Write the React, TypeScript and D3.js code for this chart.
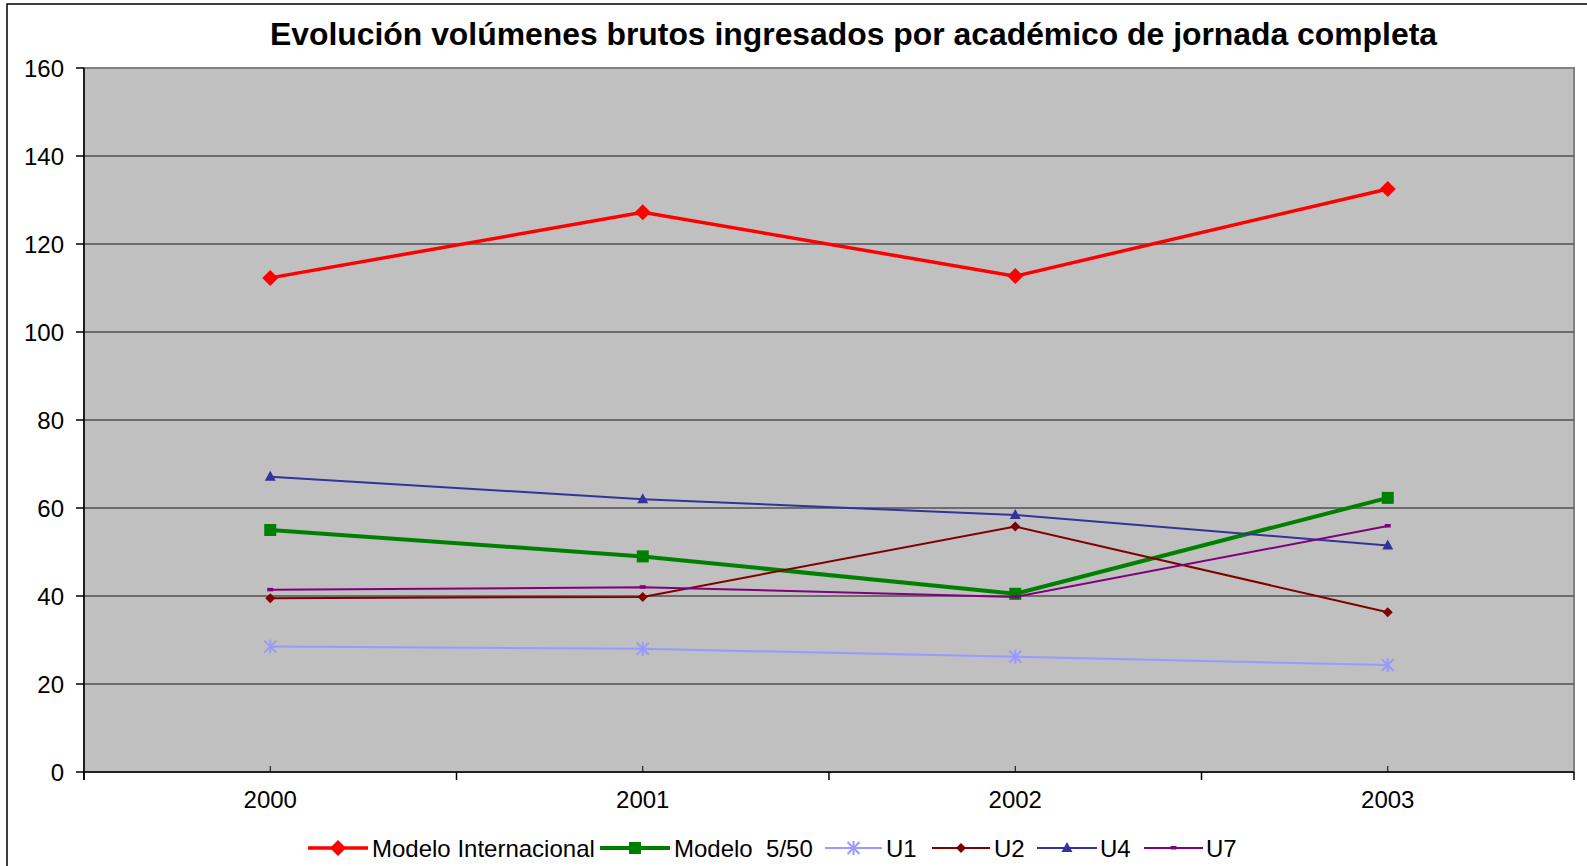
import React from "react";
import * as d3 from "d3";

const years = ["2000", "2001", "2002", "2003"];
const yTicks = [0, 20, 40, 60, 80, 100, 120, 140, 160];
const modeloInternacional = [112.3, 127.2, 112.7, 132.5];
const modelo550 = [55.0, 49.0, 40.5, 62.3];
const u1 = [28.5, 28.0, 26.2, 24.3];
const u2 = [39.5, 39.8, 55.8, 36.3];
const u4 = [67.1, 62.0, 58.4, 51.5];
const u7 = [41.4, 42.0, 39.8, 55.9];

type Series = { name: string; values: number[]; color: string; width: number; marker: string };
const series: Series[] = [
  { name: "Modelo Internacional", values: modeloInternacional, color: "#FF0000", width: 3.5, marker: "diamondBig" },
  { name: "Modelo  5/50", values: modelo550, color: "#008000", width: 4, marker: "square" },
  { name: "U1", values: u1, color: "#9999FF", width: 2, marker: "star" },
  { name: "U2", values: u2, color: "#800000", width: 2, marker: "diamondSmall" },
  { name: "U4", values: u4, color: "#333399", width: 2, marker: "triangle" },
  { name: "U7", values: u7, color: "#800080", width: 2, marker: "dash" },
];

const W = 1587, H = 866;
const plot = { l: 84, t: 68, r: 1574, b: 772 };

function Marker({ type, x, y, color }: { type: string; x: number; y: number; color: string }) {
  switch (type) {
    case "diamondBig":
      return <path d={`M${x},${y - 8}L${x + 8},${y}L${x},${y + 8}L${x - 8},${y}Z`} fill={color} />;
    case "square":
      return <rect x={x - 6} y={y - 6} width={12} height={12} fill={color} />;
    case "star":
      return (
        <g stroke={color} strokeWidth={2}>
          <line x1={x - 6} y1={y - 6} x2={x + 6} y2={y + 6} />
          <line x1={x - 6} y1={y + 6} x2={x + 6} y2={y - 6} />
          <line x1={x} y1={y - 7} x2={x} y2={y + 7} />
        </g>
      );
    case "diamondSmall":
      return <path d={`M${x},${y - 5}L${x + 5},${y}L${x},${y + 5}L${x - 5},${y}Z`} fill={color} />;
    case "triangle":
      return <path d={`M${x},${y - 6}L${x + 5.5},${y + 4}L${x - 5.5},${y + 4}Z`} fill={color} />;
    case "dash":
      return <rect x={x - 3} y={y - 2} width={6} height={3.5} fill={color} />;
  }
  return null;
}

export default function App() {
  const x = d3.scaleBand().domain(years).range([plot.l, plot.r]);
  const y = d3.scaleLinear().domain([0, 160]).range([plot.b, plot.t]);
  const cx = (yr: string) => (x(yr) as number) + x.bandwidth() / 2;
  const line = d3
    .line<number>()
    .x((_, i) => cx(years[i]))
    .y((v) => y(v));

  const bounds = years.map((yr) => x(yr) as number).concat([plot.r]);

  const legendItems = [
    { lx: 308, lx2: 368, tx: 372 },
    { lx: 600, lx2: 670, tx: 674 },
    { lx: 825, lx2: 882, tx: 886 },
    { lx: 932, lx2: 990, tx: 994 },
    { lx: 1037, lx2: 1097, tx: 1100 },
    { lx: 1144, lx2: 1203, tx: 1206 },
  ];
  const ly = 848;

  return (
    <svg width={W} height={H} style={{ position: "absolute", left: 0, top: 0 }} fontFamily="Liberation Sans, Arial, sans-serif">
      <rect x={0} y={0} width={W} height={H} fill="#fff" />
      <rect x={7} y={4} width={W + 20} height={H + 20} fill="none" stroke="#000" strokeWidth={1.5} />
      <text x={270} y={45} fontSize={31} fontWeight="bold" fill="#000" textLength={1167} lengthAdjust="spacingAndGlyphs">
        Evolución volúmenes brutos ingresados por académico de jornada completa
      </text>
      <rect x={plot.l} y={plot.t} width={plot.r - plot.l} height={plot.b - plot.t} fill="#C0C0C0" stroke="#808080" strokeWidth={2} />
      {yTicks.map((t) => (
        <g key={t}>
          {t > 0 && t < 160 && <line x1={plot.l} x2={plot.r} y1={y(t)} y2={y(t)} stroke="#505050" strokeWidth={1.5} />}
          <line x1={plot.l - 8} x2={plot.l} y1={y(t)} y2={y(t)} stroke="#000" strokeWidth={1.5} />
          <text x={64} y={y(t) + 8.5} textAnchor="end" fontSize={24} fill="#000">
            {t}
          </text>
        </g>
      ))}
      <line x1={plot.l} x2={plot.l} y1={plot.t} y2={plot.b + 8} stroke="#000" strokeWidth={1.5} />
      <line x1={plot.l} x2={plot.r} y1={plot.b} y2={plot.b} stroke="#000" strokeWidth={1.5} />
      {bounds.map((b, i) => (
        <line key={i} x1={b} x2={b} y1={plot.b} y2={plot.b + 8} stroke="#000" strokeWidth={1.5} />
      ))}
      {years.map((yr) => (
        <g key={yr}>
          <line x1={cx(yr)} x2={cx(yr)} y1={plot.b - 6} y2={plot.b} stroke="#000" strokeWidth={1} />
          <text x={cx(yr)} y={808} textAnchor="middle" fontSize={24} fill="#000">
            {yr}
          </text>
        </g>
      ))}
      {series.map((s) => (
        <g key={s.name}>
          <path d={line(s.values) || ""} fill="none" stroke={s.color} strokeWidth={s.width} />
          {s.values.map((v, i) => (
            <Marker key={i} type={s.marker} x={cx(years[i])} y={y(v)} color={s.color} />
          ))}
        </g>
      ))}
      {series.map((s, i) => {
        const li = legendItems[i];
        return (
          <g key={s.name}>
            <line x1={li.lx} x2={li.lx2} y1={ly} y2={ly} stroke={s.color} strokeWidth={s.width} />
            <Marker type={s.marker} x={(li.lx + li.lx2) / 2} y={ly} color={s.color} />
            <text x={li.tx} y={ly + 8.5} fontSize={24} fill="#000" style={{ whiteSpace: "pre" }}>
              {s.name}
            </text>
          </g>
        );
      })}
    </svg>
  );
}
